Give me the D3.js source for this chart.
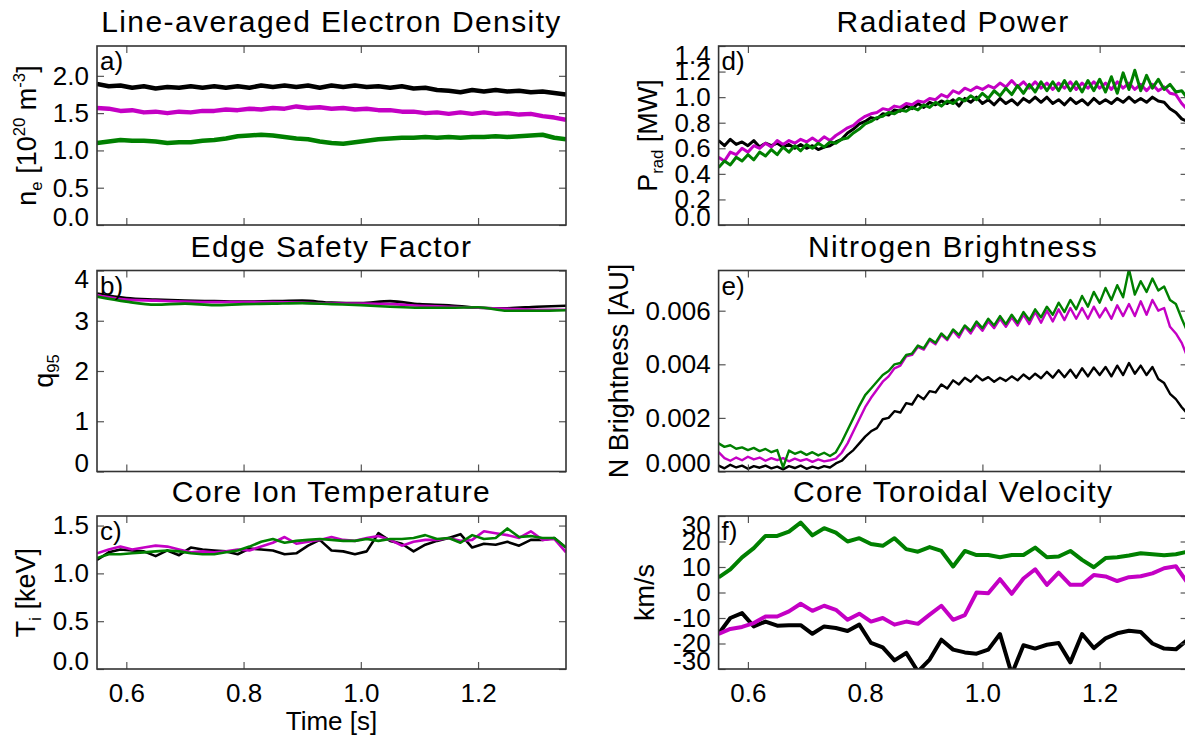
<!DOCTYPE html>
<html>
<head>
<meta charset="utf-8">
<script src="https://cdn.jsdelivr.net/npm/d3@7"></script>
<style>
  html, body { margin: 0; padding: 0; background: #fff; }
  svg { display: block; }
  text { font-family: "Liberation Sans", Arial, Helvetica, sans-serif; fill: #000; }
  .tick text { font-size: 26px; }
  .tick line { stroke: #555; stroke-width: 1.2; }
</style>
</head>
<body>
<div id="chart"></div>
<script>
// time bases (s) of the sampled signals
const T_10MS = d3.range(81).map(i => +(0.55 + i * 0.01).toFixed(2));
const T_20MS = d3.range(41).map(i => +(0.55 + i * 0.02).toFixed(2));
const T_50MS = d3.range(17).map(i => +(0.55 + i * 0.05).toFixed(2));
const X_TICKS = [0.6, 0.8, 1.0, 1.2];

// a) line-averaged density [1e20 m^-3], 20 ms
const NE_BLACK = [1.89,1.86,1.87,1.84,1.86,1.83,1.85,1.84,1.86,1.84,1.86,1.84,1.86,1.84,1.87,1.85,1.87,1.85,1.87,1.84,1.87,1.85,1.87,1.85,1.86,1.84,1.86,1.83,1.84,1.81,1.80,1.78,1.81,1.79,1.81,1.79,1.80,1.78,1.79,1.77,1.75];
const NE_MAGENTA = [1.57,1.56,1.53,1.54,1.51,1.52,1.50,1.52,1.51,1.53,1.53,1.55,1.54,1.56,1.55,1.57,1.56,1.59,1.57,1.58,1.56,1.57,1.55,1.56,1.54,1.54,1.52,1.52,1.50,1.51,1.49,1.51,1.49,1.51,1.49,1.50,1.48,1.49,1.46,1.44,1.41];
const NE_GREEN = [1.10,1.12,1.14,1.13,1.13,1.12,1.10,1.11,1.11,1.13,1.14,1.16,1.19,1.20,1.21,1.20,1.18,1.16,1.15,1.12,1.10,1.09,1.11,1.13,1.15,1.16,1.17,1.17,1.18,1.17,1.18,1.17,1.18,1.18,1.19,1.18,1.19,1.20,1.21,1.17,1.15];

// b) q95, 50 ms
const Q_BLACK = [3.54,3.45,3.42,3.40,3.39,3.38,3.39,3.40,3.36,3.35,3.39,3.33,3.31,3.26,3.25,3.28,3.30];
const Q_MAGENTA = [3.51,3.42,3.40,3.38,3.37,3.37,3.37,3.36,3.34,3.34,3.33,3.30,3.28,3.26,3.24,3.22,3.22];
const Q_GREEN = [3.48,3.38,3.32,3.34,3.31,3.33,3.34,3.35,3.33,3.31,3.28,3.26,3.26,3.27,3.20,3.20,3.21];

// c) core Ti [keV], 20 ms
const TI_BLACK = [1.14,1.22,1.25,1.24,1.23,1.18,1.24,1.19,1.27,1.25,1.24,1.23,1.20,1.26,1.25,1.24,1.20,1.21,1.29,1.35,1.24,1.23,1.20,1.23,1.42,1.34,1.31,1.23,1.30,1.34,1.37,1.41,1.27,1.31,1.30,1.33,1.29,1.35,1.35,1.37,1.27];
const TI_MAGENTA = [1.21,1.25,1.28,1.25,1.27,1.29,1.28,1.25,1.22,1.23,1.22,1.23,1.25,1.24,1.28,1.32,1.38,1.31,1.33,1.35,1.38,1.35,1.34,1.37,1.39,1.35,1.29,1.33,1.35,1.35,1.37,1.34,1.35,1.44,1.42,1.40,1.37,1.44,1.35,1.36,1.22];
const TI_GREEN = [1.16,1.20,1.20,1.21,1.22,1.23,1.24,1.23,1.21,1.20,1.20,1.22,1.24,1.28,1.33,1.36,1.32,1.34,1.35,1.36,1.35,1.34,1.34,1.36,1.34,1.36,1.36,1.37,1.40,1.36,1.37,1.32,1.40,1.36,1.37,1.47,1.38,1.39,1.37,1.37,1.27];

// d) radiated power [MW], 10 ms
const PRAD_BLACK = [0.66,0.62,0.67,0.63,0.65,0.62,0.66,0.61,0.64,0.62,0.64,0.61,0.63,0.60,0.63,0.60,0.62,0.59,0.61,0.62,0.65,0.67,0.72,0.75,0.79,0.81,0.84,0.83,0.87,0.86,0.90,0.89,0.93,0.91,0.95,0.92,0.96,0.94,0.97,0.95,0.98,0.93,0.99,0.96,1.00,0.95,0.98,0.94,0.99,0.95,0.98,0.94,0.99,0.96,1.00,0.96,1.00,0.95,0.98,0.94,0.99,0.95,0.98,0.94,0.99,0.95,0.98,0.95,0.99,0.96,1.00,0.96,0.99,0.96,1.00,0.97,0.96,0.91,0.88,0.83,0.81];
const PRAD_MAGENTA = [0.53,0.50,0.57,0.55,0.60,0.57,0.62,0.60,0.64,0.61,0.66,0.63,0.66,0.64,0.67,0.65,0.68,0.65,0.69,0.66,0.70,0.73,0.76,0.78,0.82,0.85,0.87,0.88,0.91,0.90,0.93,0.92,0.95,0.94,0.97,0.96,0.99,0.98,1.02,1.00,1.05,1.03,1.07,1.05,1.08,1.06,1.09,1.07,1.11,1.08,1.13,1.08,1.12,1.07,1.12,1.07,1.11,1.06,1.11,1.07,1.12,1.06,1.11,1.07,1.12,1.07,1.11,1.06,1.12,1.07,1.11,1.06,1.10,1.05,1.10,1.05,1.08,1.03,1.02,0.95,0.90];
const PRAD_GREEN = [0.45,0.50,0.47,0.53,0.50,0.55,0.51,0.57,0.54,0.59,0.55,0.61,0.57,0.62,0.58,0.63,0.60,0.64,0.61,0.65,0.64,0.67,0.68,0.72,0.75,0.79,0.81,0.84,0.85,0.88,0.87,0.90,0.89,0.92,0.90,0.94,0.92,0.96,0.93,0.97,0.95,0.99,0.97,1.01,0.98,1.03,0.99,1.05,1.01,1.07,1.02,1.09,1.03,1.10,1.04,1.12,1.05,1.12,1.05,1.13,1.05,1.12,1.04,1.13,1.05,1.14,1.04,1.16,1.03,1.19,1.06,1.21,1.05,1.17,1.07,1.14,1.06,1.10,1.04,1.05,0.99];

// e) N brightness [1e-3 AU], 10 ms
const NB_BLACK = [0.22,0.12,0.25,0.15,0.22,0.10,0.20,0.14,0.22,0.12,0.18,0.08,0.20,0.13,0.22,0.10,0.18,0.12,0.20,0.15,0.30,0.40,0.62,0.80,1.05,1.30,1.50,1.62,1.95,2.00,2.25,2.20,2.55,2.50,2.85,2.70,3.00,2.95,3.25,3.10,3.40,3.25,3.50,3.35,3.58,3.40,3.52,3.35,3.50,3.38,3.55,3.40,3.62,3.45,3.65,3.48,3.72,3.50,3.78,3.52,3.80,3.50,3.85,3.55,3.88,3.60,3.90,3.55,3.95,3.60,4.05,3.65,3.95,3.60,3.90,3.45,3.30,2.90,2.70,2.40,2.15];
const NB_MAGENTA = [0.72,0.50,0.40,0.52,0.42,0.55,0.45,0.52,0.40,0.50,0.42,0.50,0.38,0.48,0.40,0.46,0.36,0.45,0.38,0.42,0.48,0.70,1.05,1.50,1.95,2.40,2.75,3.05,3.35,3.55,3.85,3.95,4.30,4.35,4.65,4.55,4.90,4.75,5.10,4.90,5.25,5.00,5.40,5.15,5.50,5.25,5.60,5.35,5.70,5.40,5.75,5.45,5.85,5.50,5.95,5.55,6.00,5.60,6.05,5.65,6.10,5.70,6.10,5.70,6.15,5.75,6.10,5.70,6.20,5.80,6.25,5.80,6.35,5.85,6.40,6.00,6.10,5.40,5.15,4.80,4.25];
const NB_GREEN = [1.05,0.92,0.98,0.85,0.90,0.80,0.88,0.76,0.84,0.72,0.80,0.15,0.78,0.66,0.74,0.62,0.72,0.60,0.70,0.58,0.72,1.10,1.55,2.00,2.45,2.85,3.10,3.35,3.60,3.75,4.00,4.05,4.35,4.40,4.70,4.60,4.95,4.80,5.15,4.95,5.30,5.10,5.45,5.25,5.60,5.35,5.70,5.45,5.80,5.50,5.85,5.55,5.95,5.65,6.05,5.75,6.15,5.85,6.30,5.95,6.40,6.05,6.55,6.15,6.70,6.30,6.85,6.40,6.95,6.50,7.55,6.60,7.10,6.70,7.20,6.75,6.90,6.40,6.25,5.70,5.20];

// f) core toroidal velocity [km/s], 20 ms
const VT_BLACK = [-16.2,-10.0,-8.1,-13.3,-11.4,-13.0,-12.8,-12.8,-16.2,-13.3,-13.9,-15.1,-12.6,-19.8,-21.5,-26.6,-23.7,-31.0,-26.3,-18.5,-22.4,-23.5,-24.0,-22.4,-16.3,-32.0,-20.7,-22.0,-20.5,-19.8,-27.4,-16.3,-21.8,-18.0,-16.0,-15.0,-15.5,-20.0,-22.0,-22.3,-18.5];
const VT_MAGENTA = [-16.2,-14.3,-13.5,-12.0,-9.4,-9.4,-7.4,-4.4,-7.2,-5.2,-6.8,-10.7,-8.3,-11.4,-10.0,-12.6,-11.4,-12.3,-8.7,-5.2,-10.7,-8.9,0.0,-0.3,5.2,-0.5,5.5,9.1,3.0,7.8,3.0,3.0,6.9,6.3,4.5,6.0,6.4,7.5,9.5,10.3,3.7];
const VT_GREEN = [5.9,9.1,13.8,17.4,22.2,22.2,23.9,27.4,22.4,25.2,23.5,20.0,21.3,19.0,18.3,21.3,17.0,16.0,17.8,16.3,10.2,16.3,14.7,14.7,13.8,14.7,14.7,17.6,13.8,14.1,16.3,12.8,9.9,13.5,13.8,14.5,15.4,15.0,14.6,15.0,16.0];

const BLACK = "#000000", MAGENTA = "#c400c4", GREEN = "#008000";
const W = 1185, H = 735, TICK = 7;
const LEFT_X = [97, 566], RIGHT_X = [718.6, 1187.6];
const ROW_Y = [[46, 225], [270.5, 471.5], [516, 669]];

const svg = d3.select("#chart").append("svg")
  .attr("width", W).attr("height", H)
  .attr("viewBox", `0 0 ${W} ${H}`);

// text with sub/superscript pieces
function richText(sel, parts, size) {
  let shift = 0;
  parts.forEach(([str, kind]) => {
    const target = kind === "sub" ? 6 : kind === "sup" ? -11 : 0;
    const t = sel.append("tspan").text(str).attr("dy", target - shift);
    if (kind) t.attr("font-size", size * 0.62);
    shift = target;
  });
}

const panels = [
  { id: "a", title: "Line-averaged Electron Density", xr: LEFT_X, yr: ROW_Y[0], time: T_20MS,
    yDomain: [0, 2.4], yTicks: [0, 0.5, 1.0, 1.5, 2.0], fmt: d3.format(".1f"), lw: 4.5,
    series: [NE_BLACK, NE_MAGENTA, NE_GREEN],
    ylab: [["n"], ["e", "sub"], [" [10"], ["20", "sup"], [" m"], ["-3", "sup"], ["]"]], ylabX: 36 },
  { id: "b", title: "Edge Safety Factor", xr: LEFT_X, yr: ROW_Y[1], time: T_50MS,
    yDomain: [0, 4], yTicks: [0, 1, 2, 3, 4], fmt: d => String(d), lw: 2.6, curve: d3.curveMonotoneX,
    series: [Q_BLACK, Q_MAGENTA, Q_GREEN],
    ylab: [["q"], ["95", "sub"]], ylabX: 53 },
  { id: "c", title: "Core Ion Temperature", xr: LEFT_X, yr: ROW_Y[2], time: T_20MS,
    yDomain: [0, 1.6], yTicks: [0, 0.5, 1.0, 1.5], fmt: d3.format(".1f"), lw: 2.6, xLabels: true,
    series: [TI_BLACK, TI_MAGENTA, TI_GREEN],
    ylab: [["T"], ["i", "sub"], [" [keV]"]], ylabX: 35 },
  { id: "d", title: "Radiated Power", xr: RIGHT_X, yr: ROW_Y[0], time: T_10MS,
    yDomain: [0, 1.4], yTicks: [0, 0.2, 0.4, 0.6, 0.8, 1.0, 1.2, 1.4], fmt: d3.format(".1f"), lw: 3,
    series: [PRAD_BLACK, PRAD_MAGENTA, PRAD_GREEN],
    ylab: [["P"], ["rad", "sub"], [" [MW]"]], ylabX: 657 },
  { id: "e", title: "Nitrogen Brightness", xr: RIGHT_X, yr: ROW_Y[1], time: T_10MS,
    yDomain: [0, 7.5], yTicks: [0, 2, 4, 6], fmt: d => (d / 1000).toFixed(3), lw: 2.4,
    series: [NB_BLACK, NB_MAGENTA, NB_GREEN],
    ylab: [["N Brightness [AU]"]], ylabX: 628 },
  { id: "f", title: "Core Toroidal Velocity", xr: RIGHT_X, yr: ROW_Y[2], time: T_20MS,
    yDomain: [-30, 30], yTicks: [-30, -20, -10, 0, 10, 20, 30], fmt: d => String(d), lw: 4, xLabels: true,
    series: [VT_BLACK, VT_MAGENTA, VT_GREEN],
    ylab: [["km/s"]], ylabX: 654 }
];
const COLORS = [BLACK, MAGENTA, GREEN];

function drawPanel(p) {
  const g = svg.append("g").attr("class", "panel-" + p.id);
  const x = d3.scaleLinear().domain([0.55, 1.35]).range(p.xr);
  const y = d3.scaleLinear().domain(p.yDomain).range([p.yr[1], p.yr[0]]);
  const [x0, x1] = p.xr, [y0, y1] = p.yr;

  svg.append("clipPath").attr("id", "clip-" + p.id)
    .append("rect").attr("x", x0).attr("y", y0).attr("width", x1 - x0).attr("height", y1 - y0);

  // title
  g.append("text")
    .attr("x", (x0 + x1) / 2).attr("y", y0 - 14)
    .attr("text-anchor", "middle")
    .attr("font-size", 30).attr("letter-spacing", "1.4px")
    .text(p.title);

  // signals
  const line = d3.line().x((d, i) => x(p.time[i])).y(d => y(d));
  if (p.curve) line.curve(p.curve);
  const lg = g.append("g").attr("clip-path", `url(#clip-${p.id})`);
  p.series.forEach((vals, k) => {
    lg.append("path").datum(vals)
      .attr("d", line)
      .attr("fill", "none")
      .attr("stroke", COLORS[k])
      .attr("stroke-width", p.lw)
      .attr("stroke-linejoin", "round");
  });

  // axes, ticks pointing inward on all four sides
  const yl = g.append("g").attr("transform", `translate(${x0},0)`)
    .call(d3.axisLeft(y).tickValues(p.yTicks).tickFormat(p.fmt).tickSizeInner(-TICK).tickSizeOuter(0).tickPadding(8));
  g.append("g").attr("transform", `translate(${x1},0)`)
    .call(d3.axisRight(y).tickValues(p.yTicks).tickFormat("").tickSizeInner(-TICK).tickSizeOuter(0));
  g.append("g").attr("transform", `translate(0,${y1})`)
    .call(d3.axisBottom(x).tickValues(X_TICKS).tickFormat(p.xLabels ? d3.format(".1f") : "")
      .tickSizeInner(-TICK).tickSizeOuter(0).tickPadding(15));
  g.append("g").attr("transform", `translate(0,${y0})`)
    .call(d3.axisTop(x).tickValues(X_TICKS).tickFormat("").tickSizeInner(-TICK).tickSizeOuter(0));
  g.selectAll(".domain").remove();
  g.selectAll("g").attr("font-size", null).attr("font-family", null);

  // end labels are pushed inside the frame
  const [lo, hi] = p.yDomain;
  yl.selectAll(".tick text").attr("y", d => d === hi ? 9 : d === lo ? -8 : 0);

  // frame
  g.append("rect")
    .attr("x", x0).attr("y", y0).attr("width", x1 - x0).attr("height", y1 - y0)
    .attr("fill", "none").attr("stroke", "#333").attr("stroke-width", 1.6);

  // panel letter
  g.append("text").attr("x", x0 + 3).attr("y", y0 + 24).attr("font-size", 26).text(p.id + ")");

  // y label
  const lab = g.append("text")
    .attr("transform", `translate(${p.ylabX},${(y0 + y1) / 2}) rotate(-90)`)
    .attr("text-anchor", "middle").attr("font-size", 27);
  richText(lab, p.ylab, 27);
}

panels.forEach(drawPanel);

// shared time label under the left column
svg.append("text")
  .attr("x", (LEFT_X[0] + LEFT_X[1]) / 2).attr("y", 730)
  .attr("text-anchor", "middle").attr("font-size", 26)
  .text("Time [s]");
</script>
</body>
</html>
